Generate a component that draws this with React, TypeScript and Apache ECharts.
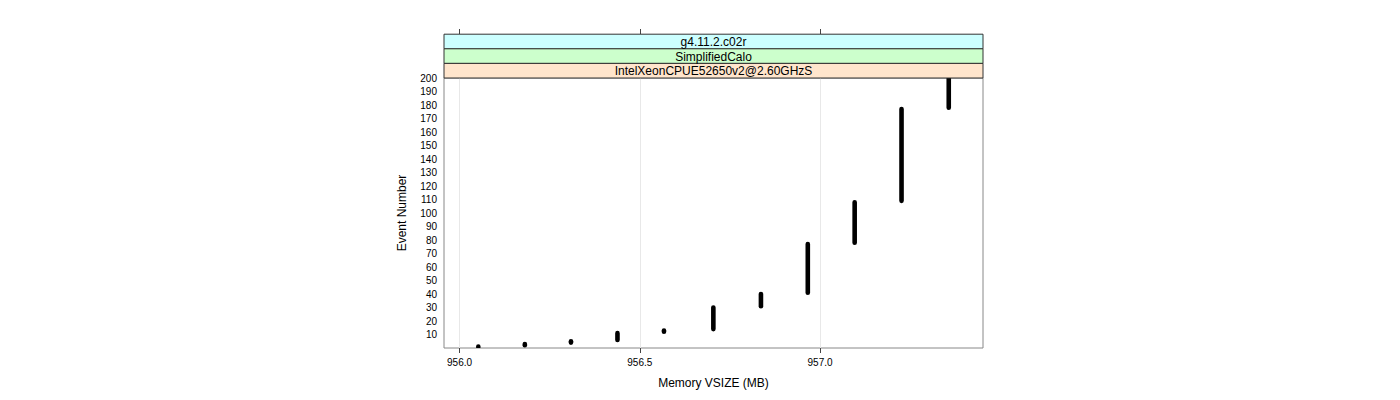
import React, { useEffect, useRef } from "react";
import * as echarts from "echarts";

// Memory VSIZE (MB) steps and the event numbers recorded at each one
const memoryMB = [956.052, 956.181, 956.309, 956.438, 956.567, 956.704, 956.836, 956.966, 957.096, 957.226, 957.357];
const firstEvent = [1, 2, 4, 6, 12, 14, 31, 41, 78, 109, 178];
const lastEvent = [1, 3, 5, 11, 13, 30, 40, 77, 108, 177, 200];
const xTicks = [956.0, 956.5, 957.0];
const stripLabels = ["g4.11.2.c02r", "SimplifiedCalo", "IntelXeonCPUE52650v2@2.60GHzS"];
const stripColors = ["#ccffff", "#ccffcc", "#ffe5cc"];

const FONT = "Liberation Sans, Arial, Helvetica, sans-serif";

export default function App() {
  const ref = useRef<HTMLDivElement>(null);
  useEffect(() => {
    if (!ref.current) return;
    const chart = echarts.init(ref.current, null, { renderer: "svg" });
    const gridLeft = 444, gridRight = 983, gridTop = 78, gridBottom = 348;
    const stripH = 14.6;
    const graphics: any[] = [];
    stripLabels.forEach((lab, i) => {
      const y = gridTop - stripH * (3 - i);
      graphics.push({
        type: "rect",
        shape: { x: gridLeft, y, width: gridRight - gridLeft, height: stripH },
        style: { fill: stripColors[i], stroke: "#333", lineWidth: 1 },
        z: 10,
      });
      graphics.push({
        type: "text",
        x: (gridLeft + gridRight) / 2,
        y: y + stripH / 2 + 0.5,
        style: { text: lab, fill: "#000", font: `12px ${FONT}`, align: "center", verticalAlign: "middle" },
        z: 11,
      });
    });
    chart.setOption({
      animation: false,
      backgroundColor: "#fff",
      grid: {
        left: gridLeft, width: gridRight - gridLeft, top: gridTop, height: gridBottom - gridTop,
        show: true, borderColor: "#888", borderWidth: 1, backgroundColor: "transparent",
      },
      xAxis: [
        {
          type: "value", min: 955.9568, max: 957.452,
          name: "Memory VSIZE (MB)", nameLocation: "middle", nameGap: 29,
          nameTextStyle: { color: "#000", fontFamily: FONT, fontSize: 12 },
          axisLine: { show: false },
          axisTick: { show: true, length: 5, lineStyle: { color: "#444" }, customValues: xTicks },
          axisLabel: { color: "#000", fontFamily: FONT, fontSize: 10, margin: 9, customValues: xTicks, formatter: (v: number) => v.toFixed(1) },
          splitLine: { show: true, lineStyle: { color: "#e8e8e8", width: 1 } },
        },
        {
          type: "value", position: "top", offset: 44, min: 955.9568, max: 957.452,
          axisLine: { show: false },
          axisTick: { show: true, length: 5, lineStyle: { color: "#444" }, customValues: xTicks },
          axisLabel: { show: false, customValues: xTicks },
          splitLine: { show: false },
        },
      ],
      yAxis: {
        type: "value", min: 0, max: 200, interval: 10,
        name: "Event Number", nameLocation: "middle", nameGap: 36,
        nameTextStyle: { color: "#000", fontFamily: FONT, fontSize: 12 },
        axisLine: { show: false },
        axisTick: { show: false },
        axisLabel: { color: "#000", fontFamily: FONT, fontSize: 10, margin: 7, formatter: (v: number) => (v === 0 ? "" : String(v)) },
        splitLine: { show: false },
      },
      graphic: graphics,
      series: [
        {
          type: "custom",
          clip: true,
          xAxisIndex: 0,
          encode: { x: 0, y: [1, 2] },
          data: memoryMB.map((m, i) => [m, firstEvent[i], lastEvent[i]]),
          renderItem: (_params: any, api: any) => {
            const x = api.value(0);
            const a = api.value(1);
            const b = api.value(2);
            const pTop = api.coord([x, b]);
            const pBot = api.coord([x, a]);
            const w = 4.6;
            return {
              type: "rect",
              shape: { x: pTop[0] - w / 2, y: pTop[1] - w / 2, width: w, height: pBot[1] - pTop[1] + w, r: w / 2 },
              style: { fill: "#000" },
            };
          },
        },
      ],
    });
    return () => chart.dispose();
  }, []);
  return <div ref={ref} style={{ width: 1400, height: 400, margin: -8 }} />;
}
